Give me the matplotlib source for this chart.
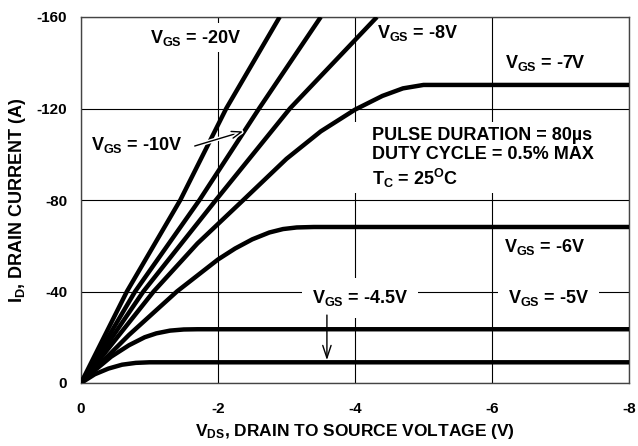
import matplotlib
matplotlib.use("Agg")
import matplotlib.pyplot as plt
import matplotlib.patheffects as pe
from matplotlib.patches import Rectangle

# V_DS (V) / I_D (A), one pair of lists per V_GS curve
vds_20 = [0, -0.67, -1.45, -2.12, -2.9]
id_20 = [0, -40, -80, -120, -160]

vds_10 = [0, -0.79, -1.73, -2.6, -3.5]
id_10 = [0, -40, -80, -120, -160]

vds_8 = [0, -0.91, -1.97, -3.05, -4.32]
id_8 = [0, -40, -80, -120, -160]

vds_7 = [0, -1.06, -1.7, -2.37, -3.0, -3.5, -4.0, -4.4, -4.7, -5.0, -8.0]
id_7 = [0, -40, -61, -80, -98, -110, -119.5, -125.5, -128.8, -130.3, -130.3]

vds_6 = [0, -0.7, -1.4, -2.0, -2.25, -2.5, -2.75, -2.95, -3.15, -3.4, -8.0]
id_6 = [0, -21, -40, -54, -58.8, -62.8, -65.8, -67.3, -68, -68.2, -68.2]

vds_5 = [0, -0.2, -0.44, -0.7, -0.93, -1.1, -1.3, -1.5, -1.7, -8.0]
id_5 = [0, -5.5, -11.5, -16.5, -20, -21.7, -22.9, -23.4, -23.5, -23.5]

vds_45 = [0, -0.2, -0.4, -0.6, -0.8, -1.0, -8.0]
id_45 = [0, -3.8, -6.3, -8.0, -8.8, -9.05, -9.05]

x_ticks = [0, -2, -4, -6, -8]
y_ticks = [0, -40, -80, -120, -160]

plt.rcParams['font.family'] = ['Liberation Sans', 'DejaVu Sans']
plt.rcParams['font.weight'] = 'bold'
plt.rcParams['mathtext.fontset'] = 'custom'
plt.rcParams['mathtext.rm'] = 'Liberation Sans:bold'
plt.rcParams['mathtext.bf'] = 'Liberation Sans:bold'
plt.rcParams['mathtext.it'] = 'Liberation Sans:bold'

fig = plt.figure(figsize=(6.38, 4.46), dpi=100)
ax = fig.add_axes([81 / 638, 63 / 446, 548 / 638, 366 / 446])

curves = [(vds_20, id_20), (vds_10, id_10), (vds_8, id_8), (vds_7, id_7),
          (vds_6, id_6), (vds_5, id_5), (vds_45, id_45)]
for xs, ys in curves:
    ax.plot(xs, ys, color='black', lw=3.2, solid_capstyle='butt',
            solid_joinstyle='round', zorder=3)

ax.set_xlim(0, -8)
ax.set_ylim(0, -160)
ax.set_xticks(x_ticks)
ax.set_yticks(y_ticks)
ax.set_xticklabels(['0', '-2', '-4', '-6', '-8'])
ax.set_yticklabels(['0', '-40', '-80', '-120', '-160'])
ax.tick_params(length=0, labelsize=11)
ax.tick_params(axis='y', pad=10)
ax.tick_params(axis='x', pad=14)
ax.grid(True, color='black', lw=0.8)
ax.set_axisbelow(True)
for sp in ax.spines.values():
    sp.set_color('#444444')
    sp.set_linewidth(1.0)

fs = 13
ax.set_xlabel(r'$\mathbf{V_{DS}}$, DRAIN TO SOURCE VOLTAGE (V)', fontsize=12.5,
              fontweight='bold', labelpad=4)
ax.set_ylabel(r'$\mathbf{I_D}$, DRAIN CURRENT (A)', fontsize=fs,
              fontweight='bold', labelpad=6)

white = dict(facecolor='white', edgecolor='none')

ax.text(-1.68, -151, r'$\mathbf{V_{GS}}$ = -20V', fontsize=fs, ha='center', va='center',
        bbox=dict(white, pad=3), zorder=2)
ax.text(-4.92, -153, r'$\mathbf{V_{GS}}$ = -8V', fontsize=fs, ha='center', va='center', zorder=4)
ax.text(-6.77, -140, r'$\mathbf{V_{GS}}$ = -7V', fontsize=fs, ha='center', va='center', zorder=4)
ax.text(-0.81, -104, r'$\mathbf{V_{GS}}$ = -10V', fontsize=fs, ha='center', va='center', zorder=4)
ax.text(-6.77, -59.5, r'$\mathbf{V_{GS}}$ = -6V', fontsize=fs, ha='center', va='center', zorder=4)
ax.text(-6.82, -37.2, r'$\mathbf{V_{GS}}$ = -5V', fontsize=fs, ha='center', va='center',
        bbox=dict(white, pad=7), zorder=2)
ax.text(-4.07, -37.2, r'$\mathbf{V_{GS}}$ = -4.5V', fontsize=fs, ha='center', va='center',
        bbox=dict(white, pad=7), zorder=2)

# arrows pointing to the -10V and -4.5V curves
ax.annotate('', xy=(-2.37, -110), xytext=(-1.66, -103.6),
            arrowprops=dict(arrowstyle='->,head_length=0.7,head_width=0.25', lw=1.0,
                            color='black', shrinkA=0, shrinkB=0,
                            path_effects=[pe.withStroke(linewidth=3, foreground='white')]),
            zorder=5)
ax.annotate('', xy=(-3.59, -10), xytext=(-3.59, -29.7),
            arrowprops=dict(arrowstyle='->,head_length=0.9,head_width=0.3', lw=1.0,
                            color='black', shrinkA=0, shrinkB=0),
            zorder=5)

# conditions block, on a white patch that hides the grid behind it
ax.add_patch(Rectangle((-3.97, -114), -3.7, 31, facecolor='white', edgecolor='none', zorder=2))
ax.text(-4.25, -112, 'PULSE DURATION = 80\u00b5s\nDUTY CYCLE = 0.5% MAX\n'
        r'T$_\mathbf{C}$ = 25$^\mathbf{O}$C',
        fontsize=fs, ha='left', va='top', linespacing=1.2, zorder=4)

fig.savefig('out.png', dpi=100)
